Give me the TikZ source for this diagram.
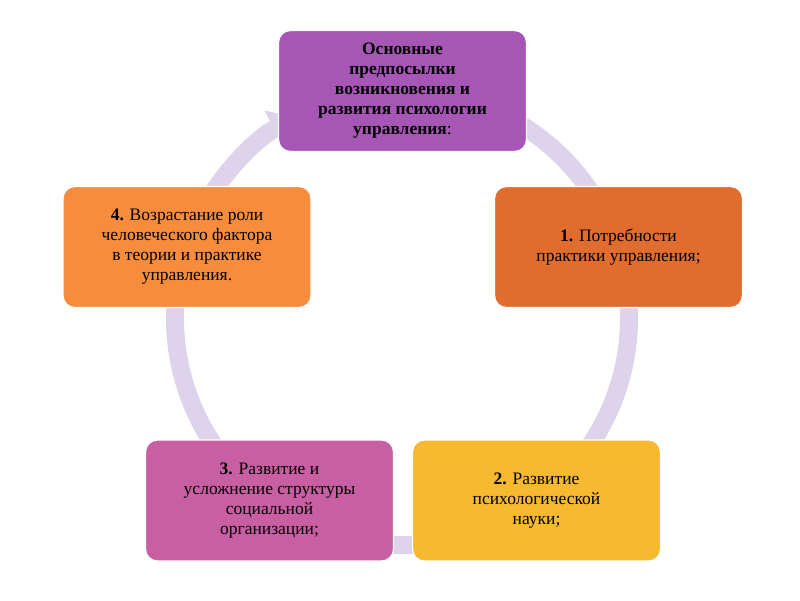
\documentclass[tikz,border=0pt]{standalone}
\usepackage{fontspec}
\setmainfont{Liberation Serif}
\usetikzlibrary{arrows.meta}
\definecolor{ring}{HTML}{DDD3EA}
\definecolor{cTop}{HTML}{A656B5}
\definecolor{cOne}{HTML}{E06C2E}
\definecolor{cTwo}{HTML}{F6B930}
\definecolor{cThree}{HTML}{C95FA3}
\definecolor{cFour}{HTML}{F68C3C}
\begin{document}
\begin{tikzpicture}[x=1pt,y=1pt,
  boxst/.style={rectangle,rounded corners=12pt,draw=white,line width=1.2pt,minimum width=248pt,minimum height=121pt,align=center,font=\fontsize{17.5}{20}\selectfont,text=black,inner sep=2pt}]
\fill[white] (0,0) rectangle (800,600);
\coordinate (c) at (402,282);
\draw[ring,line width=18pt,-{Triangle[width=40pt,length=24pt]}] (402+227*0.5,282+227*0.866) arc[start angle=60,end angle=-242,radius=227];
\node[boxst,fill=cTop] (top) at (402.5,509) {\textbf{Основные}\\\textbf{предпосылки}\\\textbf{возникновения и}\\\textbf{развития психологии}\\\textbf{управления}:};
\node[boxst,fill=cOne] (one) at (618.5,353) {\textbf{1.} Потребности\\практики управления;};
\node[boxst,fill=cTwo] (two) at (536.5,99.5) {\textbf{2.} Развитие\\психологической\\науки;};
\node[boxst,fill=cThree] (three) at (269.5,99.5) {\textbf{3.} Развитие и\\усложнение структуры\\социальной\\организации;};
\node[boxst,fill=cFour] (four) at (187,353) {\textbf{4.} Возрастание роли\\человеческого фактора\\в теории и практике\\управления.};
\end{tikzpicture}
\end{document}
